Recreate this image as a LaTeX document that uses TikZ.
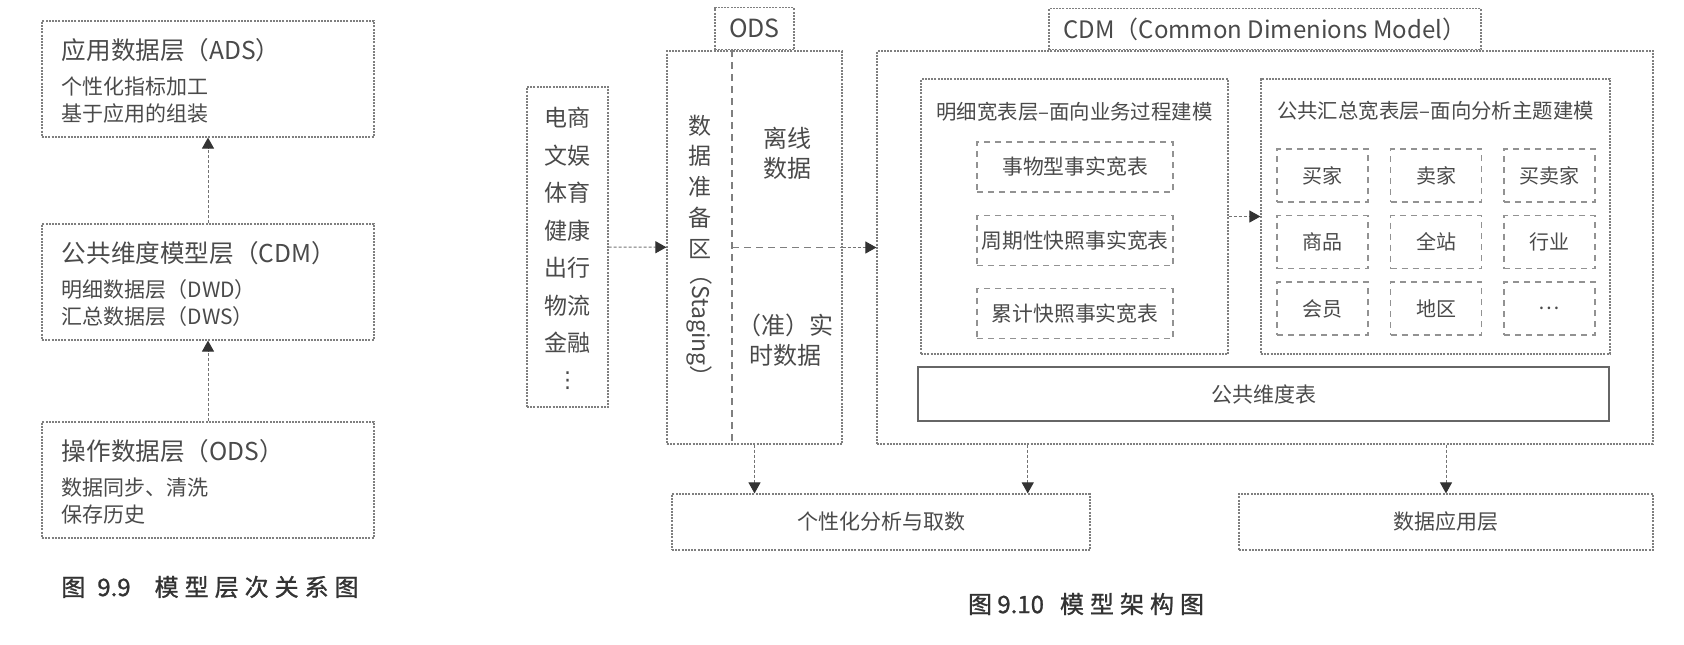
\documentclass[tikz,border=0pt]{standalone}
\usepackage{fontspec}
\setmainfont{Noto Sans CJK SC}
\newfontfamily\capfont[LetterSpace=25,FakeBold=1]{Noto Sans CJK SC}
\newfontfamily\capplain[FakeBold=1]{Noto Sans CJK SC}
\newfontfamily\dotsfont{DejaVu Sans}
\usepackage{graphicx}
\usetikzlibrary{arrows.meta}
\usetikzlibrary{calc}
\usetikzlibrary{math}

\definecolor{linegray}{HTML}{7F7F7F}
\definecolor{textgray}{HTML}{4A4A4A}

\tikzset{
  layerbox/.style={draw=linegray, line width=0.6pt, dash pattern=on 1pt off 0.6pt, inner sep=0pt},
  cellbox/.style={draw=linegray!85, line width=0.6pt, dash pattern=on 3pt off 2.5pt, inner sep=0pt},
  plainbox/.style={draw=black!60, line width=0.7pt, inner sep=0pt},
  splitline/.style={draw=linegray, line width=0.6pt, dash pattern=on 3.5pt off 2.5pt},
  flow/.style={draw=black!55, line width=0.5pt, dash pattern=on 1.5pt off 1pt,
    -{Triangle[length=5.5pt,width=6pt,color=black!80]}},
  ltitle/.style={font=\fontsize{12.3}{15}\selectfont, anchor=west, inner sep=0pt},
  lsub/.style={font=\fontsize{10.5}{13}\selectfont, anchor=west, inner sep=0pt},
  caption/.style={font=\capplain\fontsize{12}{14}\selectfont, text=black!80}
}

\begin{document}
\begin{tikzpicture}[x=0.5pt,y=-0.5pt, every node/.append style={text=textgray}]
  \useasboundingbox (0,0) rectangle (1684,644);

  % layers, left picture
  \foreach \n/\cy/\ttl/\ta/\tb in {ads/79/应用数据层（ADS）/个性化指标加工/基于应用的组装,
      cdm/282/公共维度模型层（CDM）/明细数据层（DWD）/汇总数据层（DWS）,
      ods/480/操作数据层（ODS）/数据同步、清洗/保存历史} {
    \node[layerbox, minimum width=166pt, minimum height=58pt] (L\n) at (208,\cy) {};
    \node[ltitle] (T\n) at ($(L\n.north west)+(20,30)$) {\ttl};
    \node[lsub] (A\n) at ($(L\n.north west)+(20,66)$) {\ta};
    \node[lsub] (B\n) at ($(L\n.north west)+(20,93)$) {\tb};
  }
  \draw[flow] (Lcdm) -- (Lads);
  \draw[flow] (Lods) -- (Lcdm);
  \node[caption] (capleft) at (210,587) {图\enspace 9.9\hspace{12pt}{\capfont 模型层次关系图}};

  % sources and ODS
  \node[layerbox, minimum width=40.5pt, minimum height=160pt] (src) at (567.5,247) {};
  \node[align=center, inner sep=0pt, font=\fontsize{11.5}{18.75}\selectfont] (srctext) at (567.5,230.5)
    {电商\\文娱\\体育\\健康\\出行\\物流\\金融};
  \node[inner sep=0pt, font=\dotsfont\fontsize{11}{12}\selectfont] (srcdots) at (567.5,381) {⋮};
  \node[layerbox, minimum width=87.5pt, minimum height=196.5pt] (ods) at (754.5,247.5) {};
  \node[layerbox, anchor=south, minimum width=39.5pt, minimum height=21pt,
    font=\fontsize{12.5}{15}\selectfont] (odstab) at (ods.north) {ODS};
  \coordinate (split) at (732,247.5);
  \draw[splitline] (split |- ods.north) -- (split |- ods.south);
  \draw[splitline] (split) -- (split -| ods.east);
  \node[align=center, inner sep=0pt, font=\fontsize{11.5}{15.4}\selectfont] (staging) at (699.5,186.5)
    {数\\据\\准\\备\\区};
  \node[rotate=-90, anchor=west, inner sep=0pt, font=\fontsize{11.5}{14}\selectfont] (stagingen)
    at (699.5,262) {（Staging）};
  \node[align=center, font=\fontsize{12}{15}\selectfont] (offline) at (787,153) {离线\\数据};
  \node[align=center, font=\fontsize{12}{15}\selectfont] (realtime) at (785,340) {（准）实\\时数据};
  \draw[flow] (src) -- (ods);

  % CDM
  \node[layerbox, minimum width=388pt, minimum height=196.5pt] (cdm) at (1265,247.5) {};
  \node[layerbox, anchor=south, minimum width=216pt, minimum height=20.5pt,
    font=\fontsize{12}{15}\selectfont] (cdmtab) at (cdm.north) {CDM（Common Dimenions Model）};
  \draw[flow] (ods.east) -- (cdm.west);

  \node[layerbox, minimum width=153.5pt, minimum height=137.5pt] (dwd) at (1074.5,216.5) {};
  \node[font=\fontsize{10.2}{12}\selectfont] (dwdtitle) at (1074.5,112) {明细宽表层–面向业务过程建模};
  \foreach \i/\y/\t in {1/167/事物型事实宽表, 2/240.5/周期性快照事实宽表, 3/313.5/累计快照事实宽表}
    \node[cellbox, minimum width=98pt, minimum height=25pt,
      font=\fontsize{10.4}{12}\selectfont] (fact\i) at (1075,\y) {\t};

  \node[layerbox, minimum width=174.5pt, minimum height=137.5pt] (dws) at (1435.5,216.5) {};
  \node[font=\fontsize{10.2}{12}\selectfont] (dwstitle) at (1435.5,111) {公共汇总宽表层–面向分析主题建模};
  \foreach \t [count=\k from 0] in {买家,卖家,买卖家,商品,全站,行业,会员,地区,…} {
    \tikzmath{ integer \c, \r; \c = mod(\k,3); \r = int(\k/3);
      \cx = 1322.5 + 113.5*\c; \cy = 175.5 + 66.5*\r; }
    \node[cellbox, minimum width=45.5pt, minimum height=26.5pt,
      font=\fontsize{10}{12}\selectfont] (topic\k) at (\cx,\cy) {\t};
  }
  \draw[flow] (dwd) -- (dws);

  \node[plainbox, minimum width=345.5pt, minimum height=27pt,
    font=\fontsize{10.5}{12}\selectfont] (dimtab) at (1263.5,394) {公共维度表};

  % outputs
  \node[layerbox, minimum width=209pt, minimum height=28pt,
    font=\fontsize{10.5}{12}\selectfont] (adhoc) at (881,522) {个性化分析与取数};
  \node[layerbox, minimum width=207pt, minimum height=28pt,
    font=\fontsize{10.5}{12}\selectfont] (appl) at (1446,522) {数据应用层};
  \coordinate (adhocin) at ($(adhoc.north west)!0.85!(adhoc.north east)$);
  \draw[flow] (ods.south) -- (ods.south |- adhoc.north);
  \draw[flow] (cdm.south -| adhocin) -- (adhocin);
  \draw[flow] (cdm.south -| appl.north) -- (appl.north);

  \node[caption] (capright) at (1086,604) {图 9.10\hspace{8pt}{\capfont 模型架构图}};
\end{tikzpicture}
\end{document}
